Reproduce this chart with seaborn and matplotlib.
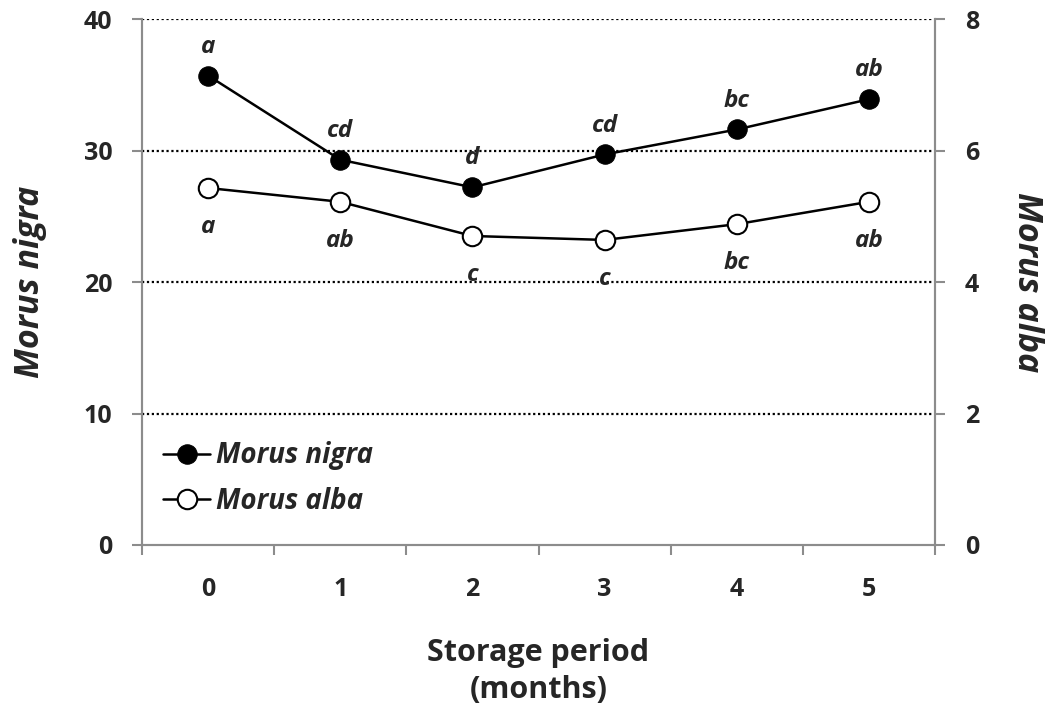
import matplotlib
matplotlib.use("Agg")
import matplotlib.pyplot as plt
import seaborn as sns
import pandas as pd

months = [0, 1, 2, 3, 4, 5]
nigra = [35.7, 29.3, 27.2, 29.7, 31.6, 33.9]
alba = [5.43, 5.22, 4.70, 4.64, 4.88, 5.22]
nigra_letters = ["a", "cd", "d", "cd", "bc", "ab"]
alba_letters = ["a", "ab", "c", "c", "bc", "ab"]
left_ticks = [0, 10, 20, 30, 40]
right_ticks = [0, 2, 4, 6, 8]

sns.set_theme(style="white")
plt.rcParams['font.family'] = ['Open Sans', 'DejaVu Sans']
plt.rcParams['font.weight'] = 'bold'

df = pd.DataFrame({"month": months, "nigra": nigra, "alba": alba})

fig = plt.figure(figsize=(10.55, 7.10), dpi=100)
ax = fig.add_axes([0.1346, 0.2324, 0.7517, 0.7408])
ax2 = ax.twinx()

for y in [10, 20, 30, 40]:
    ax.axhline(y, color="black", linestyle=(0, (1, 1.2)), linewidth=1.6, zorder=0)

sns.lineplot(data=df, x="month", y="nigra", ax=ax, color="black", linewidth=1.8,
             marker="o", markersize=14, markerfacecolor="black", markeredgecolor="black",
             label="Morus nigra", legend=False, zorder=3)
sns.lineplot(data=df, x="month", y="alba", ax=ax2, color="black", linewidth=1.8,
             marker="o", markersize=14, markerfacecolor="white", markeredgecolor="black",
             markeredgewidth=1.5, label="Morus alba", legend=False, zorder=3)

for x, y, t in zip(months, nigra, nigra_letters):
    ax.annotate(t, (x, y), xytext=(0, 16.5), textcoords="offset points", ha="center", va="baseline",
                fontsize=17.5, fontweight="bold", fontstyle="italic")
for x, y, t in zip(months, alba, alba_letters):
    ax2.annotate(t, (x, y), xytext=(0, -32.5), textcoords="offset points", ha="center", va="baseline",
                 fontsize=17.5, fontweight="bold", fontstyle="italic")

ax.set_xlim(-0.5, 5.5)
ax.set_ylim(0, 40)
ax2.set_ylim(0, 8)
ax.set_yticks(left_ticks)
ax2.set_yticks(right_ticks)
ax.set_xticks(months)
ax.set_xticks([m - 0.5 for m in months] + [5.5], minor=True)
ax.tick_params(axis="x", which="major", length=0, pad=23, labelsize=18)
ax.tick_params(axis="x", which="minor", length=7.5, width=1.5, color="#8c8c8c", direction="out", bottom=True)
ax.tick_params(axis="y", length=7.5, width=1.5, color="#8c8c8c", direction="out", left=True, labelsize=18, pad=14)
ax2.tick_params(axis="y", length=7.5, width=1.5, color="#8c8c8c", direction="out", right=True, labelsize=18, pad=14)
for a in (ax, ax2):
    for lab in a.get_xticklabels() + a.get_yticklabels():
        lab.set_fontweight("bold")
    a.spines["top"].set_visible(False)
    for s in ["left", "right", "bottom"]:
        a.spines[s].set_color("#8c8c8c")
        a.spines[s].set_linewidth(1.5)

ax.set_xlabel("Storage period\n(months)", fontsize=22, fontweight="bold", labelpad=26, linespacing=1.3)
ax.set_ylabel("Morus nigra", fontsize=24.5, fontweight="bold", fontstyle="italic", labelpad=26)
ax2.set_ylabel("Morus alba", fontsize=24.5, fontweight="bold", fontstyle="italic", rotation=270, labelpad=47)

h1, l1 = ax.get_legend_handles_labels()
h2, l2 = ax2.get_legend_handles_labels()
leg = ax.legend(h1 + h2, l1 + l2, loc="upper left", bbox_to_anchor=(0.0265, 0.197), frameon=False,
                borderaxespad=0, borderpad=0,
                prop={"size": 20, "weight": "bold", "style": "italic"}, handlelength=1.7,
                handletextpad=0.2, labelspacing=0.6)

fig.savefig("out.png", dpi=100)
